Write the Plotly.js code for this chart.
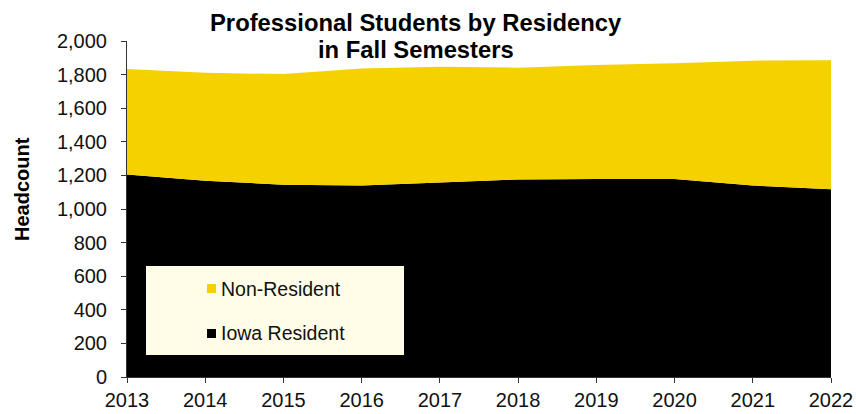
<!DOCTYPE html>
<html>
<head>
<meta charset="utf-8">
<script src="https://cdn.plot.ly/plotly-3.0.1.min.js"></script>
<style>html,body{margin:0;padding:0;background:#fff;}#chart{width:856px;height:414px;}</style>
</head>
<body>
<div id="chart"></div>
<script>
const years = [2013, 2014, 2015, 2016, 2017, 2018, 2019, 2020, 2021, 2022];
const iowaResident = [1206, 1168, 1145, 1140, 1158, 1176, 1178, 1178, 1140, 1117];
const nonResident = [627, 643, 658, 697, 689, 665, 679, 689, 743, 768];
const yTicks = [0, 200, 400, 600, 800, 1000, 1200, 1400, 1600, 1800, 2000];
const titleLines = ['Professional Students by Residency', 'in Fall Semesters'];

const BLACK = '#000000';
const YELLOW = '#F5D100';
const FONT = 'Liberation Sans, Arial, sans-serif';

const traces = [
  {x: years, y: iowaResident, name: 'Iowa Resident', type: 'scatter', mode: 'none',
   stackgroup: 'one', fillcolor: BLACK, hoverinfo: 'x+y+name'},
  {x: years, y: nonResident, name: 'Non-Resident', type: 'scatter', mode: 'none',
   stackgroup: 'one', fillcolor: YELLOW, hoverinfo: 'x+y+name'}
];

// helpers to convert reference pixel positions into paper coordinates
const px = v => (v - 127) / 704;
const py = v => (377 - v) / 336;

const layout = {
  width: 856, height: 414,
  margin: {l: 127, r: 25, t: 41, b: 37},
  paper_bgcolor: '#ffffff', plot_bgcolor: '#ffffff',
  showlegend: false,
  font: {family: FONT, color: '#111', size: 20},
  xaxis: {range: [2013, 2022], tickvals: years, ticktext: years.map(String),
          showgrid: false, zeroline: false, showline: true, linecolor: '#333', linewidth: 1,
          ticks: 'outside', ticklen: 5, tickcolor: '#333',
          tickfont: {family: FONT, size: 20, color: '#111'}},
  yaxis: {range: [0, 2000], tickvals: yTicks, tickformat: ',d',
          showgrid: false, zeroline: false, showline: true, linecolor: '#333', linewidth: 1,
          ticks: 'outside', ticklen: 5, tickcolor: '#333', ticklabelstandoff: 10,
          tickfont: {family: FONT, size: 20, color: '#111'}},
  shapes: [
    {type: 'rect', xref: 'paper', yref: 'paper',
     x0: px(146), x1: px(404), y0: py(355), y1: py(266),
     fillcolor: '#FFFDE8', line: {width: 0}, layer: 'above'},
    {type: 'rect', xref: 'paper', yref: 'paper',
     x0: px(207), x1: px(216), y0: py(293), y1: py(284),
     fillcolor: YELLOW, line: {width: 0}, layer: 'above'},
    {type: 'rect', xref: 'paper', yref: 'paper',
     x0: px(207), x1: px(216), y0: py(338), y1: py(329),
     fillcolor: BLACK, line: {width: 0}, layer: 'above'}
  ],
  annotations: [
    {text: titleLines[0], xref: 'paper', yref: 'paper', x: px(416), y: py(23),
     xanchor: 'center', yanchor: 'middle', showarrow: false,
     font: {family: FONT, size: 23.8, color: '#000', weight: 'bold'}},
    {text: titleLines[1], xref: 'paper', yref: 'paper', x: px(416), y: py(49),
     xanchor: 'center', yanchor: 'middle', showarrow: false,
     font: {family: FONT, size: 23.8, color: '#000', weight: 'bold'}},
    {text: 'Non-Resident', xref: 'paper', yref: 'paper', x: px(219), y: py(289),
     xanchor: 'left', yanchor: 'middle', showarrow: false,
     font: {family: FONT, size: 19.5, color: '#111'}},
    {text: 'Iowa Resident', xref: 'paper', yref: 'paper', x: px(219), y: py(333),
     xanchor: 'left', yanchor: 'middle', showarrow: false,
     font: {family: FONT, size: 19.5, color: '#111'}},
    {text: 'Headcount', xref: 'paper', yref: 'paper', x: px(22), y: py(189),
     xanchor: 'center', yanchor: 'middle', textangle: -90, showarrow: false,
     font: {family: FONT, size: 20, color: '#000', weight: 'bold'}}
  ]
};

Plotly.newPlot('chart', traces, layout, {displayModeBar: false, staticPlot: true});
</script>
</body>
</html>
